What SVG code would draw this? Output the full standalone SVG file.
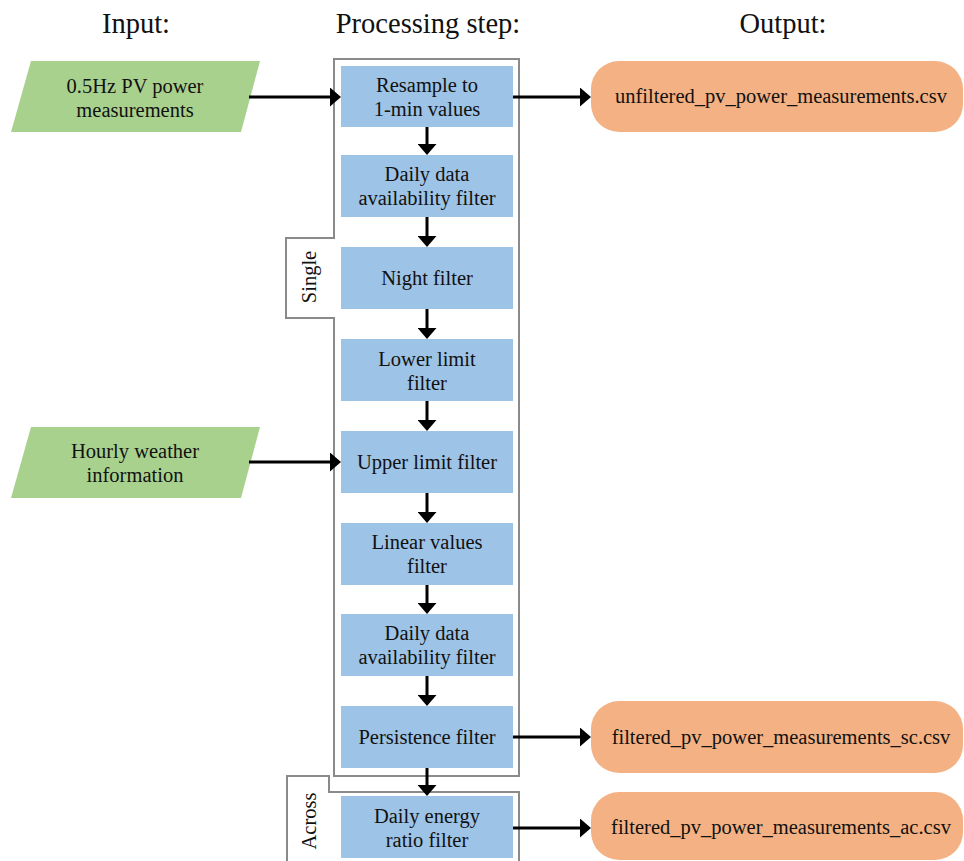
<svg xmlns="http://www.w3.org/2000/svg" width="964" height="861" viewBox="0 0 964 861" font-family="Liberation Serif, Times New Roman, DejaVu Serif, serif">
<defs>
<marker id="ah" viewBox="0 0 11 19" refX="3" refY="9.5" markerWidth="11" markerHeight="19" markerUnits="userSpaceOnUse" orient="auto">
<path d="M0,0 L11,9.5 L0,19 Z" fill="#000"/>
</marker>
<style>
text{font-family:'Liberation Serif','DejaVu Serif',serif;fill:#111;text-anchor:middle}
.t{font-size:28.5px}
.n{font-size:20.5px}
.o{font-size:20.5px}
.box{fill:#9DC3E6}
.in{fill:#A9D18E}
.out{fill:#F4B183}
.grp{fill:none;stroke:#8a8a8a;stroke-width:2}
.c line{stroke:#000;stroke-width:3;marker-end:url(#ah)}
</style>
</defs>
<rect width="964" height="861" fill="#fff"/>
<g id="titles">
<text class="t" x="136" y="33">Input:</text>
<text class="t" x="428" y="33">Processing step:</text>
<text class="t" x="783" y="33">Output:</text>
</g>
<g id="group-single">
<path class="grp" d="M334,59 H519 V776 H334 V318 H286 V238 H334 Z"/>
<text class="n" transform="translate(316,277) rotate(-90)">Single</text>
</g>
<g id="group-across">
<path class="grp" d="M287,862 V776 H329 V792 H519 V862"/>
<text class="n" transform="translate(316,821) rotate(-90)">Across</text>
</g>
<g id="in1">
<polygon class="in" points="31,61 260,61 241,132 11,132"/>
<text class="n" x="135" y="93">0.5Hz PV power</text>
<text class="n" x="135" y="117">measurements</text>
</g>
<g id="in2">
<polygon class="in" points="31,427 260,427 241,498 11,498"/>
<text class="n" x="135" y="458">Hourly weather</text>
<text class="n" x="135" y="482">information</text>
</g>
<g id="s1">
<rect class="box" x="341" y="66" width="172" height="61"/>
<text class="n" x="427" y="92">Resample to</text>
<text class="n" x="427" y="116">1-min values</text>
</g>
<g id="s2">
<rect class="box" x="341" y="155" width="172" height="62"/>
<text class="n" x="427" y="181">Daily data</text>
<text class="n" x="427" y="205">availability filter</text>
</g>
<g id="s3">
<rect class="box" x="341" y="247" width="172" height="62"/>
<text class="n" x="427" y="285">Night filter</text>
</g>
<g id="s4">
<rect class="box" x="341" y="339" width="172" height="62"/>
<text class="n" x="427" y="366">Lower limit</text>
<text class="n" x="427" y="390">filter</text>
</g>
<g id="s5">
<rect class="box" x="341" y="431" width="172" height="62"/>
<text class="n" x="427" y="469">Upper limit filter</text>
</g>
<g id="s6">
<rect class="box" x="341" y="523" width="172" height="62"/>
<text class="n" x="427" y="549">Linear values</text>
<text class="n" x="427" y="573">filter</text>
</g>
<g id="s7">
<rect class="box" x="341" y="614" width="172" height="62"/>
<text class="n" x="427" y="640">Daily data</text>
<text class="n" x="427" y="664">availability filter</text>
</g>
<g id="s8">
<rect class="box" x="341" y="706" width="172" height="62"/>
<text class="n" x="427" y="744">Persistence filter</text>
</g>
<g id="s9">
<rect class="box" x="341" y="796" width="172" height="62"/>
<text class="n" x="427" y="823">Daily energy</text>
<text class="n" x="427" y="847">ratio filter</text>
</g>
<g id="o1">
<rect class="out" x="591" y="61" width="372" height="71" rx="28"/>
<text class="o" x="781" y="103">unfiltered_pv_power_measurements.csv</text>
</g>
<g id="o2">
<rect class="out" x="591" y="701" width="372" height="72" rx="28"/>
<text class="o" x="781" y="744">filtered_pv_power_measurements_sc.csv</text>
</g>
<g id="o3">
<rect class="out" x="591" y="792" width="372" height="68" rx="28"/>
<text class="o" x="781" y="834">filtered_pv_power_measurements_ac.csv</text>
</g>
<g id="connectors" class="c">
<line x1="249" y1="97" x2="333" y2="97"/>
<line x1="513" y1="97" x2="583" y2="97"/>
<line x1="249" y1="462" x2="333" y2="462"/>
<line x1="513" y1="737" x2="583" y2="737"/>
<line x1="513" y1="828" x2="583" y2="828"/>
<line x1="427" y1="127" x2="427" y2="147"/>
<line x1="427" y1="217" x2="427" y2="239"/>
<line x1="427" y1="309" x2="427" y2="331"/>
<line x1="427" y1="401" x2="427" y2="423"/>
<line x1="427" y1="493" x2="427" y2="515"/>
<line x1="427" y1="585" x2="427" y2="606"/>
<line x1="427" y1="676" x2="427" y2="698"/>
<line x1="427" y1="768" x2="427" y2="788"/>
</g>
</svg>
